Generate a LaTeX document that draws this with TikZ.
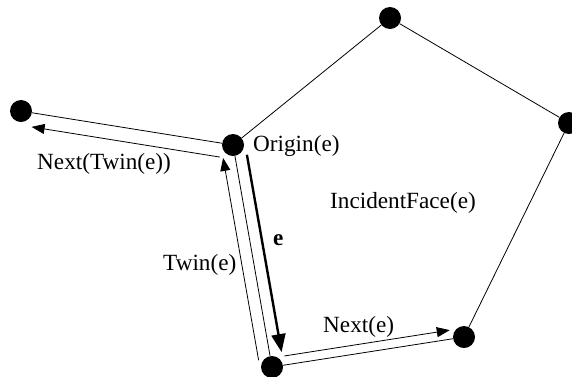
\documentclass[tikz,border=0pt]{standalone}
\usepackage{fontspec}
\setmainfont{Liberation Serif}
\usetikzlibrary{calc,arrows.meta}
\begin{document}
\begin{tikzpicture}[x=1pt,y=-1pt,
  vtx/.style={circle,fill=black,inner sep=0pt,minimum size=22pt},
  edge/.style={line width=0.8pt},
  half/.style={line width=0.8pt,-{Triangle[length=13pt,width=10pt]}},
  mainhalf/.style={line width=2.4pt,-{Triangle[length=18pt,width=14pt]}},
  lbl/.style={inner sep=0pt,anchor=base west,font=\fontsize{23.2}{27}\selectfont}]
\useasboundingbox (0,0) rectangle (572,376);
\node[vtx] (L) at (21,111) {};
\node[vtx] (O) at (233,145) {};
\node[vtx] (T) at (390,18) {};
\node[vtx] (R) at (569,123) {};
\node[vtx] (N) at (464,337) {};
\node[vtx] (B) at (272,367) {};
\draw[edge] (L) -- (O);
\draw[edge] (O) -- (T);
\draw[edge] (T) -- (R);
\draw[edge] (R) -- (N);
\draw[edge] (N) -- (B);
\draw[edge] (B) -- (O);
% half-edges
\draw[mainhalf] ($(O)!12pt!(B)!12pt!90:(B)$) -- ($(B)!13pt!(O)!12pt!-90:(O)$);
\draw[half] ($(B)!9pt!(O)!12pt!90:(O)$) -- ($(O)!11pt!(B)!12pt!-90:(B)$);
\draw[half] ($(O)!11pt!(L)!14pt!90:(L)$) -- ($(L)!13pt!(O)!14pt!-90:(O)$);
\draw[half] ($(B)!14pt!(N)!9pt!90:(N)$) -- ($(N)!13pt!(B)!9pt!-90:(B)$);
% labels
\node[lbl] (lo) at (253,151) {Origin(e)};
\node[lbl] (lf) at (330,208) {IncidentFace(e)};
\node[lbl] (lnt) at (37,169) {Next(Twin(e))};
\node[lbl] (lt) at (163,270) {Twin(e)};
\node[lbl] (le) at (273,245) {\bfseries e};
\node[lbl] (ln) at (323,332) {Next(e)};
\end{tikzpicture}
\end{document}
